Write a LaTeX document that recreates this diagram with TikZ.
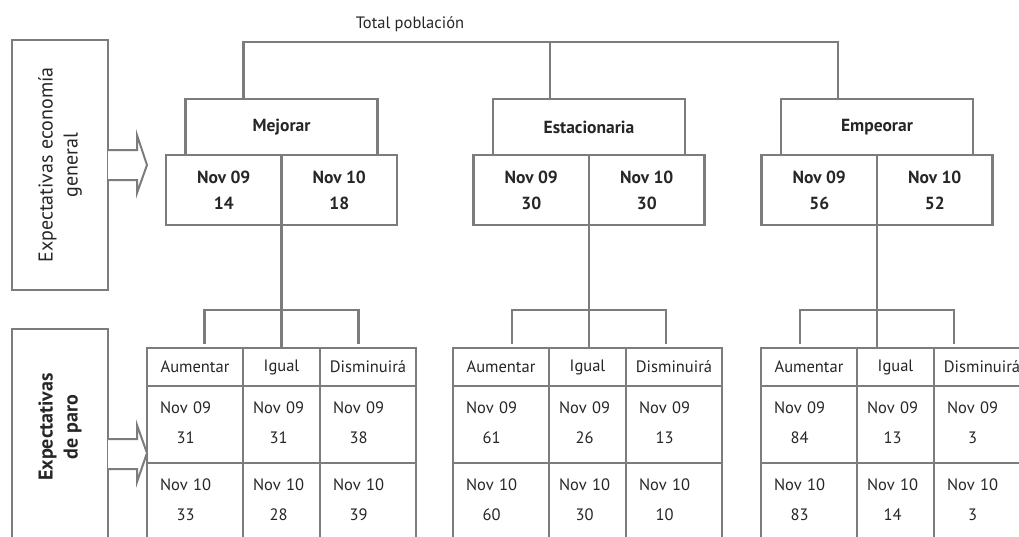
\documentclass[tikz,border=0pt]{standalone}
\usepackage{fontspec}
\setmainfont{PT Sans}
\usetikzlibrary{positioning,calc}

\definecolor{linegray}{HTML}{7C7C7C}
\definecolor{txtgray}{HTML}{262626}

\newcommand{\normtxt}{\fontsize{16.5}{21}\selectfont}
\newcommand{\boldtxt}{\bfseries\fontsize{17.5}{22}\selectfont}
\newcommand{\sidetxt}{\fontsize{20}{25}\selectfont}
\newcommand{\nv}[2]{\begin{tabular}{@{}c@{}}#1\\[9pt]#2\end{tabular}}

\begin{document}
\begin{tikzpicture}[x=1pt, y=-1pt,
  every node/.append style={text=txtgray},
  box/.style={draw=linegray, line width=2.6pt, outer sep=0pt, inner sep=0pt, fill=white},
  catbox/.style={box, minimum width=192, minimum height=56, font=\boldtxt},
  novbox/.style={box, minimum width=115.5, minimum height=70, font=\boldtxt, align=center},
  hcell/.style={box, minimum width=#1, minimum height=38, font=\normtxt},
  wcell/.style={box, minimum height=77, text width=70pt, inner xsep=13pt, align=left, font=\normtxt},
  ncell/.style={box, minimum height=77, text width=57pt, inner xsep=10pt, align=left, font=\normtxt},
  link/.style={draw=linegray, line width=2.6pt},
  hollow/.style={draw=linegray, line width=2pt, fill=white, line join=miter}]

\useasboundingbox (0,0) rectangle (1019,536);
\clip (0,0) rectangle (1019,536);

% Side boxes
\node[box, minimum width=96, minimum height=250] (eco) at (60,165) {};
\node[rotate=90, align=center, font=\sidetxt] (ecotxt) at (eco.center) {Expectativas economía\\general};
\node[box, minimum width=96, minimum height=230] (paro) at (60,444) {};
\node[rotate=90, align=center, font=\bfseries\sidetxt] (parotxt) at (60,427) {Expectativas\\de paro};

% Hollow arrows
\draw[hollow] ($(eco.east)+(0,-15)$) -- ++(29,0) -- ++(0,-15) -- ++(10,30) -- ++(-10,28) -- ++(0,-13) -- ++(-29,0);
\draw[hollow] ($(paro.north east)+(0,110)$) -- ++(29,0) -- ++(0,-14) -- ++(10,28) -- ++(-10,29) -- ++(0,-13) -- ++(-29,0);

% Total poblacion
\node[font=\normtxt] (total) at (410,24) {Total población};
\coordinate (bar) at (550,42);

% Economia general
\node[catbox] (mej) at (281.5,127) {Mejorar};
\node[catbox] (est) at (589,127) {Estacionaria};
\node[catbox] (emp) at (877,127) {Empeorar};

\node[novbox, anchor=north east] (mej09) at (mej.south) {Nov 09\\[4pt]14};
\node[novbox, anchor=north west] (mej10) at (mej.south) {Nov 10\\[4pt]18};
\node[novbox, anchor=north east] (est09) at (est.south) {Nov 09\\[4pt]30};
\node[novbox, anchor=north west] (est10) at (est.south) {Nov 10\\[4pt]30};
\node[novbox, anchor=north east] (emp09) at (emp.south) {Nov 09\\[4pt]56};
\node[novbox, anchor=north west] (emp10) at (emp.south) {Nov 10\\[4pt]52};

\draw[link] ($(mej.north)+(-38,0)$) |- (bar) -| ($(emp.north)+(-39,0)$);
\draw[link] ($(est.north)+(-39,0)$) -- (bar);

% Paro table under Mejorar
\node[hcell=96, anchor=north west] (mejau) at (147,348) {Aumentar};
\node[hcell=77, right=0pt of mejau] (mejig) {Igual};
\node[hcell=96, right=0pt of mejig] (mejdi) {Disminuirá};
\node[wcell, below=0pt of mejau] (mejau1) {\nv{Nov 09}{31}};
\node[ncell, below=0pt of mejig] (mejig1) {\nv{Nov 09}{31}};
\node[wcell, below=0pt of mejdi] (mejdi1) {\nv{Nov 09}{38}};
\node[wcell, below=0pt of mejau1] (mejau2) {\nv{Nov 10}{33}};
\node[ncell, below=0pt of mejig1] (mejig2) {\nv{Nov 10}{28}};
\node[wcell, below=0pt of mejdi1] (mejdi2) {\nv{Nov 10}{39}};

% Paro table under Estacionaria
\node[hcell=96, anchor=north west] (estau) at (453,348) {Aumentar};
\node[hcell=77, right=0pt of estau] (estig) {Igual};
\node[hcell=96, right=0pt of estig] (estdi) {Disminuirá};
\node[wcell, below=0pt of estau] (estau1) {\nv{Nov 09}{61}};
\node[ncell, below=0pt of estig] (estig1) {\nv{Nov 09}{26}};
\node[wcell, below=0pt of estdi] (estdi1) {\nv{Nov 09}{13}};
\node[wcell, below=0pt of estau1] (estau2) {\nv{Nov 10}{60}};
\node[ncell, below=0pt of estig1] (estig2) {\nv{Nov 10}{30}};
\node[wcell, below=0pt of estdi1] (estdi2) {\nv{Nov 10}{10}};

% Paro table under Empeorar
\node[hcell=96, anchor=north west] (empau) at (761,348) {Aumentar};
\node[hcell=77, right=0pt of empau] (empig) {Igual};
\node[hcell=96, right=0pt of empig] (empdi) {Disminuirá};
\node[wcell, below=0pt of empau] (empau1) {\nv{Nov 09}{84}};
\node[ncell, below=0pt of empig] (empig1) {\nv{Nov 09}{13}};
\node[wcell, below=0pt of empdi] (empdi1) {\nv{Nov 09}{3}};
\node[wcell, below=0pt of empau1] (empau2) {\nv{Nov 10}{83}};
\node[ncell, below=0pt of empig1] (empig2) {\nv{Nov 10}{14}};
\node[wcell, below=0pt of empdi1] (empdi2) {\nv{Nov 10}{3}};

% Forks down to the tables
\coordinate (mejfork) at ($(mej09.south east)+(0,85)$);
\coordinate (estfork) at ($(est09.south east)+(0,85)$);
\coordinate (empfork) at ($(emp09.south east)+(0,85)$);

\draw[link] (mej09.south east) -- (mej09.south east |- mejig.north);
\draw[link] ($(mejfork)+(-77,34)$) |- ($(mejfork)+(77,0)$) -- ++(0,34);
\draw[link] (est09.south east) -- (est09.south east |- estig.north);
\draw[link] ($(estfork)+(-77,34)$) |- ($(estfork)+(77,0)$) -- ++(0,34);
\draw[link] (emp09.south east) -- (emp09.south east |- empig.north);
\draw[link] ($(empfork)+(-77,34)$) |- ($(empfork)+(77,0)$) -- ++(0,34);

\end{tikzpicture}
\end{document}
